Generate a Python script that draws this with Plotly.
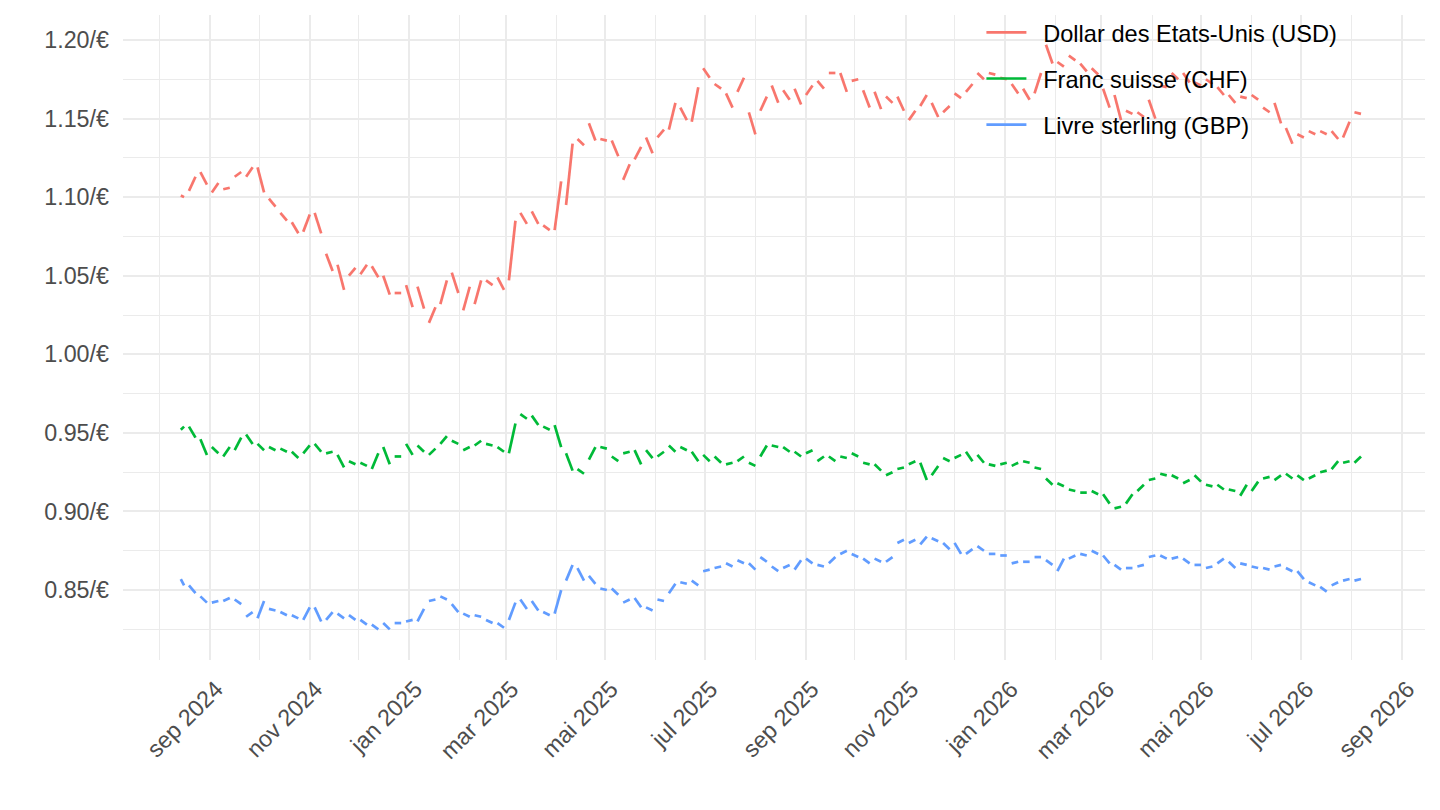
import pandas as pd
import plotly.graph_objects as go

# weekly readings (Monday open / Friday close), weeks starting 2024-08-12
week_start = "2024-08-12"
n_weeks = 104

usd_mon = [1.101, 1.104, 1.116, 1.103, 1.105, 1.113, 1.113, 1.119, 1.099, 1.090,
           1.084, 1.078, 1.090, 1.064, 1.057, 1.050, 1.051, 1.056, 1.050, 1.039,
           1.044, 1.043, 1.020, 1.032, 1.052, 1.028, 1.032, 1.047, 1.049, 1.047,
           1.090, 1.091, 1.082, 1.079, 1.095, 1.137, 1.147, 1.137, 1.136, 1.111,
           1.124, 1.138, 1.138, 1.143, 1.157, 1.148, 1.182, 1.172, 1.166, 1.167,
           1.154, 1.155, 1.171, 1.168, 1.169, 1.165, 1.174, 1.179, 1.179, 1.174,
           1.168, 1.167, 1.164, 1.164, 1.149, 1.158, 1.160, 1.154, 1.166, 1.167,
           1.179, 1.179, 1.176, 1.172, 1.169, 1.166, 1.197, 1.186, 1.190, 1.185,
           1.182, 1.169, 1.165, 1.155, 1.154, 1.162, 1.171, 1.179, 1.179, 1.173,
           1.175, 1.170, 1.165, 1.164, 1.165, 1.157, 1.160, 1.144, 1.140, 1.142,
           1.142, 1.142, 1.138, 1.154]
usd_fri = [1.100, 1.113, 1.108, 1.109, 1.106, 1.116, 1.119, 1.103, 1.094, 1.085,
           1.077, 1.089, 1.077, 1.053, 1.041, 1.055, 1.057, 1.049, 1.038, 1.039,
           1.030, 1.029, 1.030, 1.047, 1.039, 1.043, 1.047, 1.044, 1.041, 1.085,
           1.083, 1.083, 1.079, 1.110, 1.134, 1.133, 1.136, 1.136, 1.126, 1.121,
           1.132, 1.128, 1.143, 1.160, 1.149, 1.170, 1.176, 1.169, 1.157, 1.176,
           1.140, 1.164, 1.160, 1.162, 1.159, 1.171, 1.169, 1.179, 1.167, 1.175,
           1.157, 1.156, 1.160, 1.155, 1.155, 1.165, 1.151, 1.158, 1.163, 1.172,
           1.175, 1.178, 1.175, 1.166, 1.162, 1.179, 1.185, 1.183, 1.187, 1.180,
           1.178, 1.157, 1.149, 1.153, 1.151, 1.150, 1.170, 1.175, 1.173, 1.171,
           1.172, 1.165, 1.160, 1.163, 1.162, 1.154, 1.147, 1.134, 1.138, 1.140,
           1.140, 1.137, 1.148, 1.153]

chf_mon = [0.952, 0.954, 0.946, 0.941, 0.935, 0.939, 0.949, 0.943, 0.941, 0.940,
           0.938, 0.937, 0.943, 0.937, 0.936, 0.932, 0.931, 0.927, 0.941, 0.935,
           0.943, 0.942, 0.936, 0.943, 0.945, 0.939, 0.942, 0.943, 0.941, 0.937,
           0.962, 0.961, 0.954, 0.955, 0.937, 0.927, 0.933, 0.941, 0.935, 0.937,
           0.939, 0.939, 0.935, 0.942, 0.941, 0.938, 0.936, 0.935, 0.930, 0.932,
           0.931, 0.935, 0.942, 0.941, 0.938, 0.937, 0.932, 0.935, 0.935, 0.937,
           0.931, 0.930, 0.923, 0.927, 0.930, 0.931, 0.923, 0.934, 0.934, 0.938,
           0.936, 0.930, 0.930, 0.929, 0.932, 0.928, 0.921, 0.918, 0.914, 0.912,
           0.913, 0.911, 0.902, 0.905, 0.913, 0.920, 0.924, 0.923, 0.918, 0.923,
           0.917, 0.917, 0.914, 0.910, 0.913, 0.921, 0.920, 0.924, 0.923, 0.921,
           0.925, 0.927, 0.931, 0.931]
chf_fri = [0.954, 0.947, 0.936, 0.937, 0.941, 0.947, 0.943, 0.939, 0.939, 0.938,
           0.934, 0.942, 0.938, 0.938, 0.928, 0.930, 0.929, 0.937, 0.930, 0.935,
           0.936, 0.938, 0.940, 0.948, 0.943, 0.941, 0.945, 0.942, 0.938, 0.956,
           0.959, 0.955, 0.952, 0.941, 0.926, 0.924, 0.941, 0.940, 0.932, 0.938,
           0.930, 0.934, 0.938, 0.938, 0.939, 0.932, 0.932, 0.931, 0.931, 0.935,
           0.929, 0.942, 0.941, 0.938, 0.935, 0.939, 0.935, 0.932, 0.934, 0.935,
           0.930, 0.926, 0.925, 0.928, 0.932, 0.920, 0.929, 0.932, 0.936, 0.932,
           0.931, 0.929, 0.931, 0.931, 0.931, 0.927, 0.917, 0.916, 0.913, 0.912,
           0.911, 0.905, 0.903, 0.911, 0.917, 0.921, 0.923, 0.921, 0.920, 0.919,
           0.916, 0.914, 0.913, 0.917, 0.919, 0.922, 0.923, 0.921, 0.920, 0.923,
           0.926, 0.932, 0.932, 0.935]

gbp_mon = [0.857, 0.853, 0.846, 0.842, 0.843, 0.844, 0.833, 0.832, 0.838, 0.836,
           0.834, 0.831, 0.839, 0.831, 0.835, 0.834, 0.831, 0.828, 0.829, 0.829,
           0.830, 0.830, 0.843, 0.846, 0.841, 0.835, 0.834, 0.831, 0.829, 0.831,
           0.844, 0.843, 0.836, 0.835, 0.856, 0.864, 0.859, 0.851, 0.851, 0.842,
           0.845, 0.839, 0.844, 0.848, 0.855, 0.856, 0.862, 0.864, 0.867, 0.869,
           0.867, 0.871, 0.865, 0.864, 0.863, 0.870, 0.866, 0.867, 0.873, 0.873,
           0.870, 0.870, 0.868, 0.880, 0.880, 0.879, 0.883, 0.880, 0.880, 0.873,
           0.878, 0.873, 0.872, 0.867, 0.868, 0.871, 0.869, 0.862, 0.870, 0.873,
           0.875, 0.872, 0.866, 0.864, 0.865, 0.871, 0.872, 0.870, 0.870, 0.866,
           0.864, 0.867, 0.868, 0.867, 0.865, 0.864, 0.865, 0.864, 0.862, 0.855,
           0.852, 0.853, 0.856, 0.856]
gbp_fri = [0.853, 0.848, 0.842, 0.843, 0.845, 0.841, 0.836, 0.843, 0.837, 0.834,
           0.832, 0.839, 0.830, 0.836, 0.832, 0.831, 0.828, 0.825, 0.825, 0.829,
           0.831, 0.838, 0.844, 0.844, 0.836, 0.833, 0.833, 0.829, 0.826, 0.842,
           0.838, 0.837, 0.834, 0.850, 0.866, 0.856, 0.854, 0.850, 0.847, 0.844,
           0.839, 0.837, 0.843, 0.854, 0.854, 0.853, 0.863, 0.865, 0.865, 0.867,
           0.863, 0.868, 0.862, 0.866, 0.869, 0.867, 0.865, 0.871, 0.875, 0.871,
           0.867, 0.868, 0.871, 0.882, 0.882, 0.884, 0.881, 0.876, 0.873, 0.876,
           0.875, 0.873, 0.872, 0.868, 0.868, 0.871, 0.866, 0.870, 0.872, 0.872,
           0.873, 0.867, 0.863, 0.864, 0.866, 0.872, 0.870, 0.871, 0.867, 0.866,
           0.865, 0.870, 0.864, 0.866, 0.864, 0.863, 0.866, 0.862, 0.857, 0.853,
           0.849, 0.855, 0.857, 0.857]

series_names = ["Dollar des Etats-Unis (USD)", "Franc suisse (CHF)", "Livre sterling (GBP)"]
series_colors = ["#F8766D", "#00BA38", "#619CFF"]

y_ticks = [0.85, 0.90, 0.95, 1.00, 1.05, 1.10, 1.15, 1.20]
y_minor = [0.825, 0.875, 0.925, 0.975, 1.025, 1.075, 1.125, 1.175]
x_ticks = ["2024-09-01", "2024-11-01", "2025-01-01", "2025-03-01", "2025-05-01",
           "2025-07-01", "2025-09-01", "2025-11-01", "2026-01-01", "2026-03-01",
           "2026-05-01", "2026-07-01", "2026-09-01"]
x_labels = ["sep 2024", "nov 2024", "jan 2025", "mar 2025", "mai 2025", "jul 2025",
            "sep 2025", "nov 2025", "jan 2026", "mar 2026", "mai 2026", "jul 2026",
            "sep 2026"]


def weekly_path(mon_vals, fri_vals):
    # one segment per week (no weekend fixings -> gaps between weeks)
    mondays = pd.date_range(week_start, periods=n_weeks, freq="W-MON")
    xs, ys = [], []
    for i, (m, o, c) in enumerate(zip(mondays, mon_vals, fri_vals)):
        start = m + pd.Timedelta(days=2) if i == 0 else m  # series starts on a Wednesday
        xs += [start, m + pd.Timedelta(days=4), m + pd.Timedelta(days=5)]
        ys += [o, c, None]
    return xs, ys


fig = go.Figure()
for name, color, mon, fri in zip(series_names, series_colors,
                                 [usd_mon, chf_mon, gbp_mon],
                                 [usd_fri, chf_fri, gbp_fri]):
    xs, ys = weekly_path(mon, fri)
    # en space keeps the gap between key and label a bit wider, like ggplot
    fig.add_trace(go.Scatter(x=xs, y=ys, mode="lines", name="\u2002" + name,
                             legendgroup=name,
                             line=dict(color=color, width=2.7), connectgaps=False))

grid = "#EBEBEB"
# the page body adds an 8px offset, so the figure is 8px smaller than the window
fig.update_layout(
    width=1432,
    height=802,
    margin=dict(l=115, r=15, t=7, b=150, autoexpand=False),
    paper_bgcolor="white",
    plot_bgcolor="white",
    font=dict(family="Liberation Sans, Arial, sans-serif", size=23.3, color="#4D4D4D"),
    showlegend=True,
    legend=dict(x=0.6593, y=1.007, xanchor="left", yanchor="top",
                bgcolor="rgba(0,0,0,0)", font=dict(size=23.6, color="black"),
                tracegroupgap=12.5, itemwidth=40),
)
fig.update_xaxes(
    range=["2024-07-09 14:00", "2026-09-15 05:00"], automargin=False,
    tickmode="array", tickvals=x_ticks, ticktext=x_labels, tickangle=-45,
    showgrid=True, gridcolor=grid, gridwidth=2,
    minor=dict(dtick="M1", tick0="2024-08-01", showgrid=True, gridcolor=grid, gridwidth=1),
    zeroline=False, showline=False, ticks="", ticklabelshift=6, ticklabelstandoff=10,
)
fig.update_yaxes(
    range=[0.8055, 1.2159], automargin=False,
    tickmode="array", tickvals=y_ticks, ticktext=[f"{v:.2f}/€" for v in y_ticks],
    showgrid=True, gridcolor=grid, gridwidth=2,
    minor=dict(tickvals=y_minor, showgrid=True, gridcolor=grid, gridwidth=1),
    zeroline=False, showline=False, ticks="", ticklabelstandoff=13,
)

fig.write_html("out.html")
